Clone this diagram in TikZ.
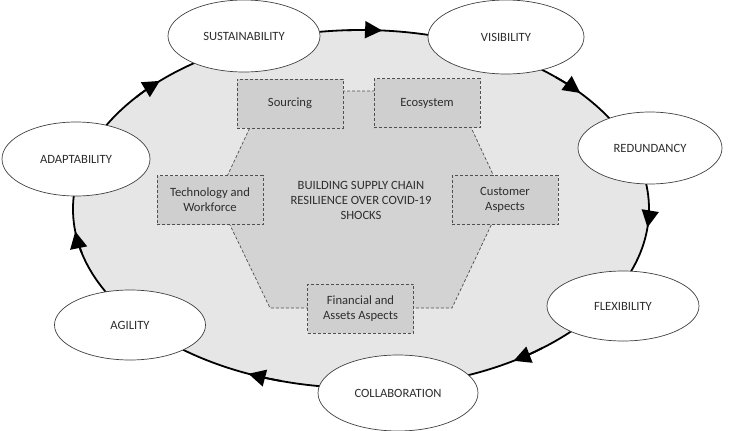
\documentclass[tikz,border=0pt]{standalone}
\usepackage{fontspec}
\setmainfont{Carlito}
\usetikzlibrary{shapes.geometric,arrows.meta}
\definecolor{ringfill}{HTML}{E6E6E6}
\definecolor{hexfill}{HTML}{D3D3D3}
\definecolor{boxfill}{HTML}{CFCFCF}
\definecolor{txt}{HTML}{2E2E2E}
\definecolor{dashcol}{HTML}{505050}
\newcommand\flowarrow[1]{\draw[flowtip] (ring.center) ++(#1-7:288 and 179) arc[start angle=#1-7, end angle=#1, x radius=288, y radius=179];}
\begin{document}
\begin{tikzpicture}[x=1pt,y=-1pt,
  every node/.style={font=\fontsize{12.6}{15}\selectfont, text=txt},
  factor/.style={ellipse, draw=black!75, line width=0.7pt, fill=white, inner sep=0pt},
  dashline/.style={draw=dashcol, dash pattern=on 3pt off 2pt, line width=0.7pt},
  aspect/.style={rectangle, dashline, fill=boxfill, minimum width=106pt, minimum height=49pt, align=center, inner sep=1pt},
  flowtip/.style={line width=1.8pt, -{Triangle[length=17pt,width=17pt]}},
]
\useasboundingbox (0,0) rectangle (729,431);
\node[ellipse, draw=black, line width=1.8pt, fill=ringfill, minimum width=576pt, minimum height=358pt, inner sep=0pt] (ring) at (361,209) {};
\flowarrow{-85.8}
\flowarrow{-40.4}
\flowarrow{5.9}
\flowarrow{58}
\flowarrow{113}
\flowarrow{172.8}
\flowarrow{225.7}
\path[dashline, fill=hexfill] (267,91) -- (454,91) -- (504,198) -- (452,308) -- (270,308) -- (217,198) -- cycle;
\node[aspect] (src) at (290,103.5) {Sourcing};
\node[aspect] (eco) at (427,103) {Ecosystem};
\node[aspect] (tech) at (210,200) {Technology and\\Workforce};
\node[aspect] (cust) at (505,200) {Customer\\Aspects};
\node[aspect] (fin) at (360.5,308.5) {Financial and\\Assets Aspects};
\node[align=center] (core) at (361,200) {BUILDING SUPPLY CHAIN\\RESILIENCE OVER COVID-19\\SHOCKS};
\node[factor, minimum width=152pt, minimum height=72pt] (sus) at (244,36) {SUSTAINABILITY};
\node[factor, minimum width=156pt, minimum height=74pt] (vis) at (506,37) {VISIBILITY};
\node[factor, minimum width=144pt, minimum height=72pt] (red) at (650,148) {REDUNDANCY};
\node[factor, minimum width=152pt, minimum height=70pt] (flex) at (623,306) {FLEXIBILITY};
\node[factor, minimum width=160pt, minimum height=76pt] (coll) at (398,393) {COLLABORATION};
\node[factor, minimum width=151pt, minimum height=70pt] (agil) at (130,325) {AGILITY};
\node[factor, minimum width=148pt, minimum height=74pt] (adapt) at (76,159) {ADAPTABILITY};
\end{tikzpicture}
\end{document}
